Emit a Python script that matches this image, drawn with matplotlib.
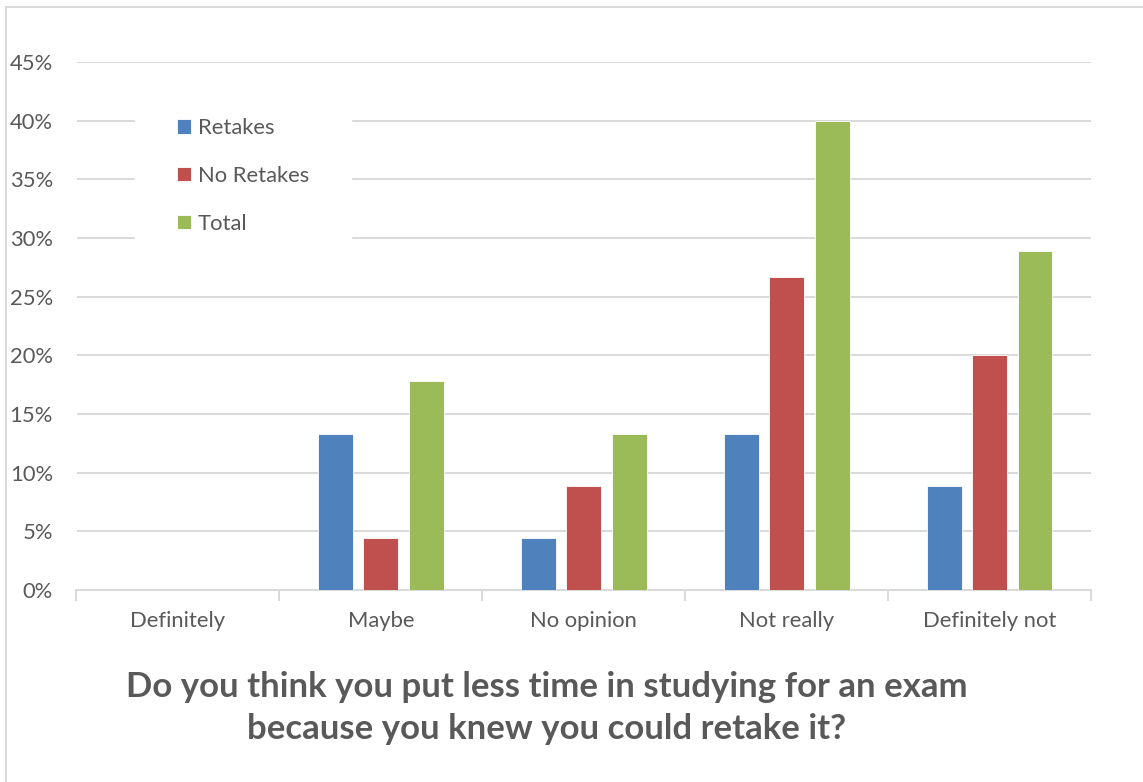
import matplotlib
matplotlib.use("Agg")
import matplotlib.pyplot as plt
from matplotlib.lines import Line2D
import numpy as np

categories = ["Definitely", "Maybe", "No opinion", "Not really", "Definitely not"]
retakes = [0.0, 13.33, 4.44, 13.33, 8.89]
no_retakes = [0.0, 4.44, 8.89, 26.67, 20.0]
total = [0.0, 17.78, 13.33, 40.0, 28.89]
yticks = [0, 5, 10, 15, 20, 25, 30, 35, 40, 45]
title = "Do you think you put less time in studying for an exam\nbecause you knew you could retake it?"

series = [("Retakes", retakes, "#4F81BD"),
          ("No Retakes", no_retakes, "#C0504D"),
          ("Total", total, "#9BBB59")]

plt.rcParams["font.family"] = ["Lato", "DejaVu Sans"]
text_color = "#595959"
grid_color = "#D9D9D9"
fs = 15.8

W, H = 1143, 782
fig = plt.figure(figsize=(W / 100, H / 100), dpi=100)
fig.patch.set_facecolor("white")

left, right, bottom, top = 76.5, 1091, 590, 62
ax = fig.add_axes([left / W, 1 - bottom / H, (right - left) / W, (bottom - top) / H])

x = np.arange(len(categories))
bar_w = 0.172
offset = 0.224
for i, (name, vals, col) in enumerate(series):
    ax.bar(x + (i - 1) * offset, vals, width=bar_w, color=col, label=name,
           edgecolor="white", linewidth=0.6, zorder=3)

ax.set_xlim(-0.5, len(categories) - 0.5)
ax.set_ylim(0, 45)
ax.set_yticks(yticks)
ax.set_yticklabels([f"{v}%" for v in yticks])
ax.yaxis.grid(True, color=grid_color, linewidth=1.4, zorder=0)
ax.set_axisbelow(True)
for s in ["left", "right", "top"]:
    ax.spines[s].set_visible(False)
ax.spines["bottom"].set_color(grid_color)
ax.spines["bottom"].set_linewidth(1.4)
ax.tick_params(axis="y", length=0, pad=17, labelsize=fs, labelcolor=text_color)

# category labels centred, tick marks on the boundaries
ax.set_xticks(x)
ax.set_xticklabels(categories)
ax.tick_params(axis="x", which="major", length=0, pad=15, labelsize=fs, labelcolor=text_color)
ax.set_xticks(np.arange(-0.5, len(categories)), minor=True)
ax.tick_params(axis="x", which="minor", length=8, width=1.4, color=grid_color)

leg = ax.legend(loc="upper left", bbox_to_anchor=(0.0577, 0.973), frameon=True,
                fontsize=fs, labelspacing=1.27, handlelength=0.65, handleheight=0.65,
                handletextpad=0.3, borderpad=1.9, borderaxespad=0)
leg.get_frame().set_facecolor("white")
leg.get_frame().set_edgecolor("white")
leg.get_frame().set_alpha(1)
for t in leg.get_texts():
    t.set_color(text_color)

fig.text(547 / W, 1 - 708 / H, title, ha="center", va="center", fontsize=25,
         fontweight="bold", color=text_color, linespacing=1.38)

# outer frame: top and left edges
fig.add_artist(Line2D([5.5 / W, 1], [1 - 7 / H, 1 - 7 / H], color=grid_color, linewidth=1.4,
                      transform=fig.transFigure))
fig.add_artist(Line2D([5.5 / W, 5.5 / W], [0, 1 - 7 / H], color=grid_color, linewidth=1.4,
                      transform=fig.transFigure))

fig.savefig("out.png", dpi=100, facecolor="white")
